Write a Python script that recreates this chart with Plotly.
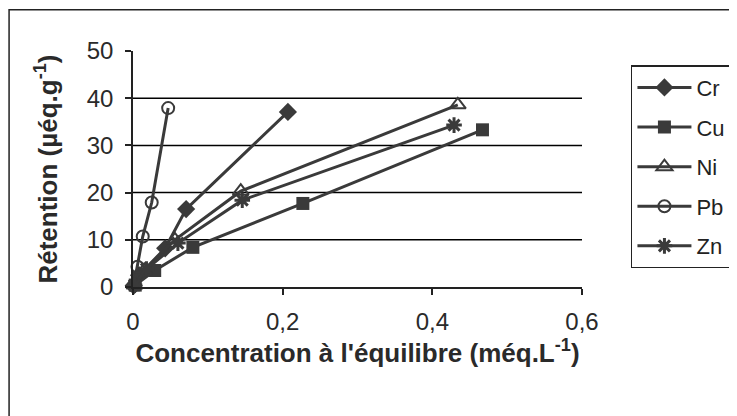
import plotly.graph_objects as go

series_names = ["Cr", "Cu", "Ni", "Pb", "Zn"]
cr_x = [0.001, 0.008, 0.043, 0.071, 0.207]
cr_y = [0.3, 2.5, 8.2, 16.5, 37.1]
cu_x = [0.003, 0.029, 0.080, 0.227, 0.467]
cu_y = [0.4, 3.5, 8.4, 17.7, 33.3]
ni_x = [0.002, 0.015, 0.056, 0.144, 0.434]
ni_y = [0.4, 3.5, 10.0, 20.3, 38.6]
pb_x = [0.001, 0.006, 0.013, 0.025, 0.047]
pb_y = [0.3, 4.3, 10.7, 17.9, 37.9]
zn_x = [0.002, 0.018, 0.060, 0.146, 0.429]
zn_y = [0.4, 3.8, 9.3, 18.4, 34.3]

x_ticks = [0, 0.2, 0.4, 0.6]
x_tick_labels = ["0", "0,2", "0,4", "0,6"]
y_ticks = [0, 10, 20, 30, 40, 50]
grid_vals = [10, 20, 30, 40]

LINE = "#3a3a3a"
styles = {
    "Cr": dict(symbol="diamond", size=14, color=LINE, line=dict(width=0)),
    "Cu": dict(symbol="square", size=13, color=LINE, line=dict(width=0)),
    "Ni": dict(symbol="triangle-up-open", size=14, color=LINE, line=dict(width=2, color=LINE)),
    "Pb": dict(symbol="circle-open", size=12, color=LINE, line=dict(width=2, color=LINE)),
    "Zn": dict(symbol="asterisk-open", size=13, color=LINE, line=dict(width=3, color=LINE)),
}
data = {"Cr": (cr_x, cr_y), "Cu": (cu_x, cu_y), "Ni": (ni_x, ni_y),
        "Pb": (pb_x, pb_y), "Zn": (zn_x, zn_y)}

fig = go.Figure()
for name in series_names:
    xs, ys = data[name]
    fig.add_trace(go.Scatter(
        x=xs, y=ys, name=name, mode="lines+markers",
        line=dict(color=LINE, width=3),
        marker=styles[name], legendgroup=name, cliponaxis=False,
    ))

for g in grid_vals:
    fig.add_shape(type="line", xref="paper", x0=0, x1=1, yref="y", y0=g, y1=g,
                  line=dict(color="black", width=1.5), layer="below")

# outer chart border
fig.add_shape(type="rect", xref="paper", yref="paper",
              x0=-0.276, x1=1.40, y0=-0.65, y1=1.175,
              line=dict(color="#222", width=1.5))

FONT = "Liberation Sans, Arial, sans-serif"
fig.update_layout(
    width=737, height=416,
    margin=dict(l=125, r=163, t=43, b=137),
    paper_bgcolor="white", plot_bgcolor="white",
    separators=", ",
    font=dict(family=FONT, color="#2a2a2a", size=24),
    showlegend=True,
    legend=dict(
        x=1.109, y=0.94, xanchor="left", yanchor="top",
        bordercolor="#222", borderwidth=1.5, bgcolor="white",
        font=dict(size=22, color="#222", family=FONT),
        tracegroupgap=8, traceorder="grouped", itemwidth=54,
    ),
    xaxis=dict(
        range=[0, 0.6], tickvals=x_ticks, ticktext=x_tick_labels,
        showgrid=False, zeroline=False, showline=True, linecolor="#222", linewidth=1.5,
        ticks="outside", ticklen=6, tickcolor="#222", tickwidth=1.5,
        ticklabelstandoff=6,
        title=dict(text="<b>Concentration à l'équilibre (méq.L<sup>-1</sup>)</b>",
                   font=dict(size=26), standoff=10),
    ),
    yaxis=dict(
        range=[0, 50], tickvals=y_ticks,
        showgrid=False, zeroline=False, showline=True, linecolor="#222", linewidth=1.5,
        ticks="outside", ticklen=6, tickcolor="#222", tickwidth=1.5,
        ticklabelstandoff=7,
        title=dict(text="<b>Rétention (µéq.g<sup>-1</sup>)</b>", font=dict(size=26), standoff=22),
    ),
)
fig.write_html("out.html")
